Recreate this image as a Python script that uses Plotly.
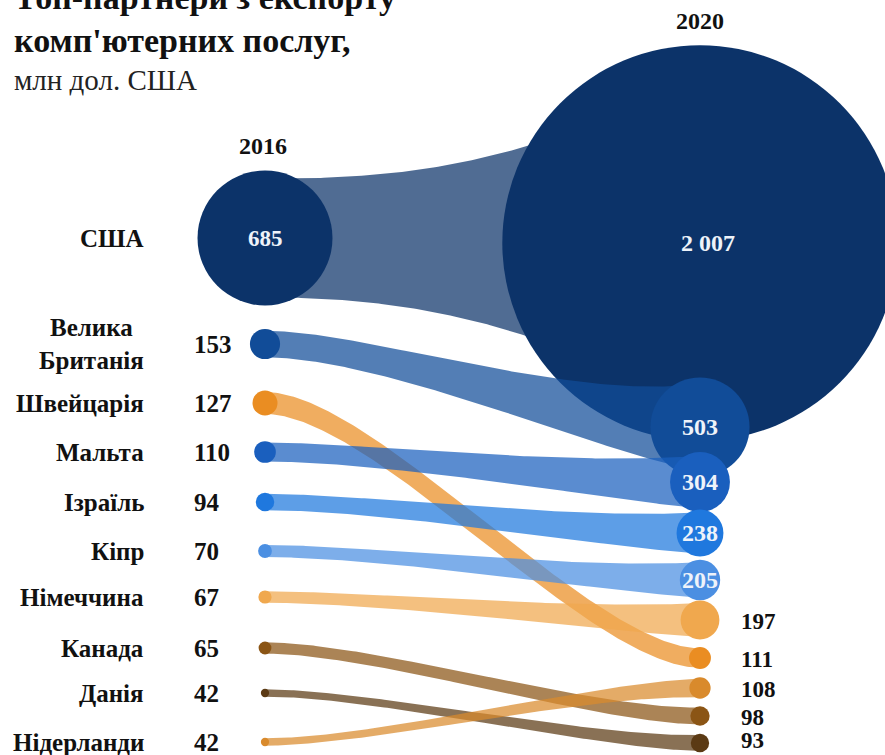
import numpy as np
import plotly.graph_objects as go

# Export of computer services, top partners, USD mn
countries = ["США", "Велика<br>Британія", "Швейцарія", "Мальта", "Ізраїль",
             "Кіпр", "Німеччина", "Канада", "Данія", "Нідерланди"]
exports_2016 = [685, 153, 127, 110, 94, 70, 67, 65, 42, 42]
exports_2020 = [2007, 503, 111, 304, 238, 205, 197, 98, 93, 108]
years = ["2016", "2020"]

# ---- layout (pixel-space canvas) ----
W, H = 885, 755
X_2016, X_2020 = 265, 700
row_y_2016 = [238, 344, 403, 452, 502, 551, 597, 648, 693, 742]
row_y_2020 = [243, 427, 658, 482, 533, 580, 620, 716, 743, 688]
colors = ["#0c3369", "#114c98", "#ea8d22", "#1a5fbe", "#1f78de",
          "#4b8fe2", "#f0a84e", "#8b5515", "#5b3a14", "#d98a2c"]
RADIUS_PER_UNIT = 0.0985     # px of radius per USD mn
RIBBON_SHARE = 0.88          # ribbon half-width relative to circle radius
RIBBON_ALPHA = 0.72
SERIF = "Liberation Serif"
INSIDE_MIN = 200             # values at least this big are written inside the circle


def rgba(hex_color, a):
    h = hex_color.lstrip("#")
    r, g, b = int(h[0:2], 16), int(h[2:4], 16), int(h[4:6], 16)
    return f"rgba({r},{g},{b},{a})"


def fmt(v):
    return f"{v:,}".replace(",", " ")


def ribbon(x1, y1, h1, x2, y2, h2, n=160):
    # cubic Bezier centre line with horizontal tangents at both ends
    t = np.linspace(0, 1, n)
    a, b = 0.25, 0.75
    s = 3 * (1 - t) ** 2 * t * a + 3 * (1 - t) * t ** 2 * b + t ** 3
    x = x1 + (x2 - x1) * s
    yc = y1 + (y2 - y1) * (3 * t ** 2 - 2 * t ** 3)
    h = h1 + (h2 - h1) * s ** 2.3
    xs = np.concatenate([x, x[::-1]])
    ys = np.concatenate([yc - h, (yc + h)[::-1]])
    return xs, ys


fig = go.Figure()

for i, name in enumerate(countries):
    v1, v2 = exports_2016[i], exports_2020[i]
    r1, r2 = v1 * RADIUS_PER_UNIT, v2 * RADIUS_PER_UNIT
    y1, y2 = row_y_2016[i], row_y_2020[i]
    xs, ys = ribbon(X_2016, y1, r1 * RIBBON_SHARE, X_2020, y2, r2 * RIBBON_SHARE)
    fig.add_trace(go.Scatter(
        x=xs, y=ys, mode="lines", fill="toself",
        fillcolor=rgba(colors[i], RIBBON_ALPHA), line=dict(width=0),
        hoverinfo="skip", showlegend=False))
    fig.add_trace(go.Scatter(
        x=[X_2016, X_2020], y=[y1, y2], mode="markers",
        marker=dict(size=[2 * r1, 2 * r2], sizemode="diameter",
                    color=colors[i], line=dict(width=0), opacity=1),
        hoverinfo="skip", showlegend=False))

annotations = []


def label(x, y, text, size, bold=True, color="#111111", xanchor="center"):
    annotations.append(dict(
        x=x, y=y, xref="x", yref="y", text=f"<b>{text}</b>" if bold else text,
        showarrow=False, xanchor=xanchor, yanchor="middle",
        font=dict(family=SERIF, size=size, color=color)))


def title_line(py, text, size, bold=True, color="#111111"):
    # paper coordinates so the first line may run past the top edge
    annotations.append(dict(
        x=12 / W, y=1 - py / H, xref="paper", yref="paper",
        text=f"<b>{text}</b>" if bold else text,
        showarrow=False, xanchor="left", yanchor="middle",
        font=dict(family=SERIF, size=size, color=color)))


# title block
title_line(-2, "Топ-партнери з експорту", 34)
title_line(41, "комп'ютерних послуг,", 34)
title_line(80, "млн дол. США", 29, bold=False, color="#222222")

# year headers
label(X_2016 - 2, 146, years[0], 24)
label(X_2020, 21, years[1], 24)

for i, name in enumerate(countries):
    y1, y2 = row_y_2016[i], row_y_2020[i]
    v1, v2 = exports_2016[i], exports_2020[i]
    label(146, y1, name, 25, xanchor="right")
    if v1 >= INSIDE_MIN:
        label(X_2016, y1, fmt(v1), 23, color="#eef3fa")
    else:
        label(192, y1, fmt(v1), 25, xanchor="left")
    if v2 >= INSIDE_MIN:
        label(X_2020 + (8 if i == 0 else 0), y2, fmt(v2), 24, color="#eef3fa")
    else:
        label(739, min(y2 + 1, 740), fmt(v2), 23, xanchor="left")

fig.update_layout(
    width=W, height=H,
    margin=dict(l=0, r=0, t=0, b=0),
    paper_bgcolor="white", plot_bgcolor="white",
    xaxis=dict(range=[0, W], visible=False, fixedrange=True),
    yaxis=dict(range=[H, 0], visible=False, fixedrange=True),
    annotations=annotations,
    showlegend=False,
)

fig.write_html("out.html")
